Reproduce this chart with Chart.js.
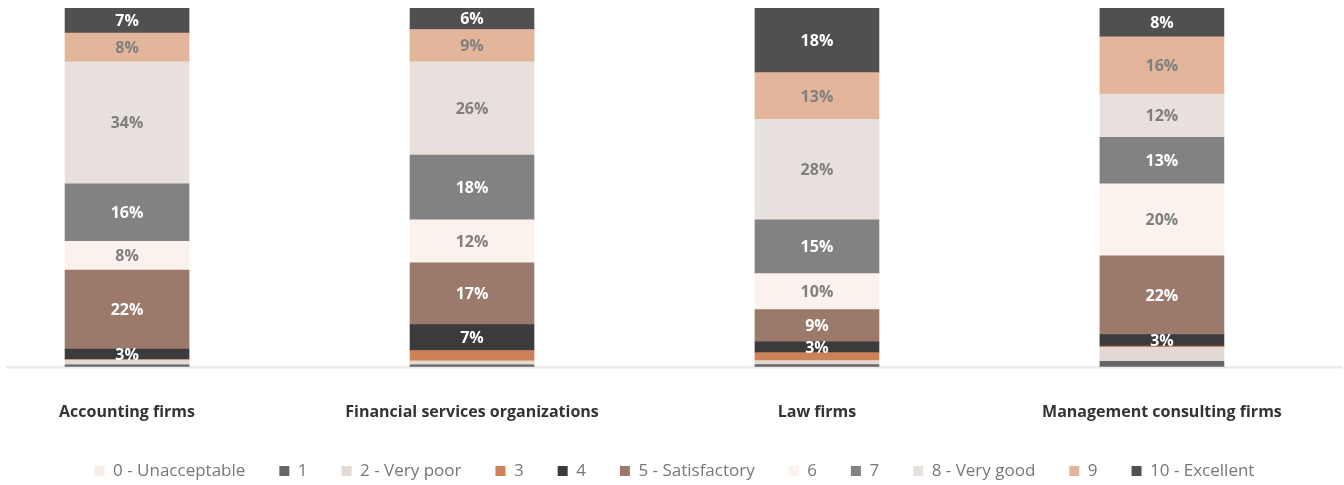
<!DOCTYPE html>
<html>
<head>
<meta charset="utf-8">
<script src="https://cdn.jsdelivr.net/npm/chart.js@4.4.1/dist/chart.umd.min.js"></script>
<style>
  html, body { margin: 0; padding: 0; background: #ffffff; overflow: hidden; }
  #wrap { width: 1344px; height: 485px; position: relative; }
</style>
</head>
<body>
<div id="wrap"><canvas id="c" width="1344" height="485"></canvas></div>
<script>
// ---- Data ----
const categories = ['Accounting firms', 'Financial services organizations', 'Law firms', 'Management consulting firms'];
const seriesNames = ['0 - Unacceptable', '1', '2 - Very poor', '3', '4', '5 - Satisfactory', '6', '7', '8 - Very good', '9', '10 - Excellent'];
const s0  = [0, 0, 0, 0];
const s1  = [0.6, 0.6, 0.7, 1.6];
const s2  = [1.4, 1.1, 1.1, 3.9];
const s3  = [0, 2.9, 2.2, 0.3];
const s4  = [3, 7.2, 3, 3.2];
const s5  = [22, 17.2, 9, 22];
const s6  = [8, 12, 10, 20];
const s7  = [16, 18, 15, 13];
const s8  = [34, 26, 28, 12];
const s9  = [8, 9, 13, 16];
const s10 = [7, 6, 18, 8];
const seriesValues = [s0, s1, s2, s3, s4, s5, s6, s7, s8, s9, s10];

// ---- Styles ----
const colors = ['#f8eee9', '#666666', '#e2d9d5', '#cd8157', '#3b3b3b', '#9b7a6b', '#fbf1ed', '#828282', '#e8e0dd', '#e3b69c', '#505050'];
const labelColors = ['#7f7f7f', '#ffffff', '#7f7f7f', '#ffffff', '#ffffff', '#ffffff', '#7f7f7f', '#ffffff', '#7f7f7f', '#7f7f7f', '#ffffff'];

const datasets = seriesNames.map((name, i) => ({
  label: name,
  data: seriesValues[i].map((v, j) => ({ x: j, y: v })),
  backgroundColor: colors[i],
  borderWidth: 0,
  barThickness: 124
}));

const valueLabelPlugin = {
  id: 'valueLabels',
  afterDatasetsDraw(chart) {
    const ctx = chart.ctx;
    ctx.save();
    ctx.font = 'bold 16px "Open Sans", sans-serif';
    ctx.textAlign = 'center';
    ctx.textBaseline = 'middle';
    chart.data.datasets.forEach((ds, di) => {
      if (di < 4) return; // the thin low-score segments carry no label
      const meta = chart.getDatasetMeta(di);
      meta.data.forEach((bar, i) => {
        const v = seriesValues[di][i];
        if (v >= 3) {
          const p = bar.getProps(['x', 'y', 'base'], true);
          ctx.fillStyle = labelColors[di];
          ctx.fillText(Math.round(v) + '%', p.x, (p.y + p.base) / 2 + 1);
        }
      });
    });
    ctx.restore();
  }
};

new Chart(document.getElementById('c'), {
  type: 'bar',
  data: { datasets },
  options: {
    responsive: false,
    animation: false,
    layout: { padding: { left: 7, right: 2, top: 8, bottom: -4.5 } },
    scales: {
      x: {
        type: 'linear',
        stacked: true,
        offset: false,
        min: -0.348,
        max: 3.522,
        grid: { display: false, drawTicks: false, offset: false },
        border: { display: true, color: '#ebebeb', width: 2.5 },
        afterFit: (scale) => { scale.height = 61.5; },
        ticks: {
          stepSize: 1,
          includeBounds: false,
          autoSkip: false,
          maxRotation: 0,
          padding: 35.4,
          color: '#333333',
          font: { family: '"Open Sans", sans-serif', size: 16, weight: 'bold' },
          callback: (value) => (Number.isInteger(value) && categories[value] !== undefined) ? categories[value] : ''
        }
      },
      y: {
        stacked: true,
        display: false,
        min: 0,
        max: 100
      }
    },
    plugins: {
      tooltip: { enabled: false },
      legend: {
        position: 'bottom',
        labels: {
          boxWidth: 10,
          boxHeight: 10,
          padding: 34,
          color: '#777777',
          font: { family: '"Open Sans", sans-serif', size: 17 }
        }
      }
    }
  },
  plugins: [valueLabelPlugin]
});
</script>
</body>
</html>
